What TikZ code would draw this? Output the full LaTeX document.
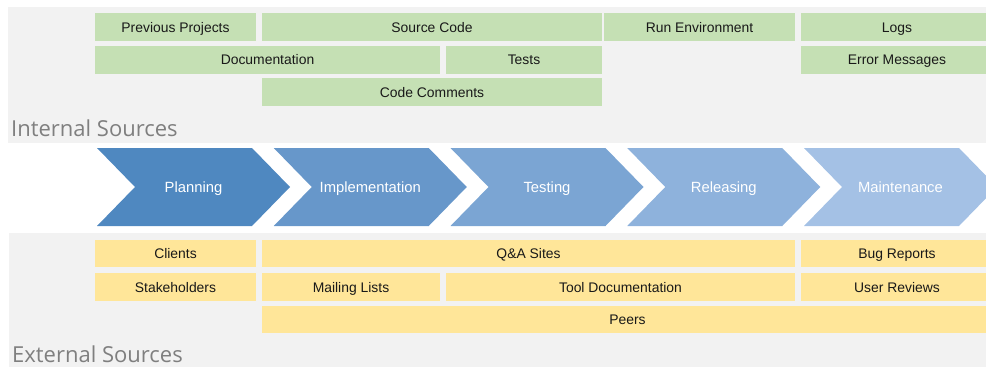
\documentclass[tikz,border=0pt]{standalone}
\usepackage{fontspec}
\setmainfont{Liberation Sans}
\newfontfamily\labelfont{Open Sans}
\definecolor{panelgray}{HTML}{F2F2F2}
\definecolor{boxgreen}{HTML}{C5E0B4}
\definecolor{boxyellow}{HTML}{FFE699}
\definecolor{labgray}{HTML}{7F7F7F}
\definecolor{chA}{HTML}{4F88C0}
\definecolor{chB}{HTML}{6797CA}
\definecolor{chC}{HTML}{7BA5D3}
\definecolor{chD}{HTML}{8EB2DC}
\definecolor{chE}{HTML}{A4C1E5}
\tikzset{
  srcbox/.style={inner sep=0pt, font=\fontsize{13.9}{16}\selectfont, text=black!90, minimum height=28pt, text height=13pt, text depth=3pt},
  gbox/.style={srcbox, fill=boxgreen},
  ybox/.style={srcbox, fill=boxyellow, minimum height=27.5pt},
  phase/.style={inner sep=0pt, font=\fontsize{14.8}{17}\selectfont, text=white, text height=13.7pt, text depth=3pt},
  panel/.style={fill=panelgray, draw=none},
  seclabel/.style={anchor=base west, inner sep=0pt, font=\labelfont\fontsize{22}{26}\selectfont, text=labgray}
}
\begin{document}
\begin{tikzpicture}[x=1pt,y=-1pt]
\useasboundingbox (0,0) rectangle (986,367);
\clip (0,0) rectangle (986,367);
% panels
\fill[panel] (8,7) rectangle (990,143);
\fill[panel] (9,233) rectangle (990,370);
% internal sources
\node[gbox, minimum width=161pt] (prev) at (175.5,27) {Previous Projects};
\node[gbox, minimum width=340pt] (src) at (432,27) {Source Code};
\node[gbox, minimum width=191pt] (runenv) at (699.5,27) {Run Environment};
\node[gbox, minimum width=192pt] (logs) at (897,27) {Logs};
\node[gbox, minimum width=345pt] (doc) at (267.5,59.5) {Documentation};
\node[gbox, minimum width=156pt] (tests) at (524,59.5) {Tests};
\node[gbox, minimum width=192pt] (err) at (897,59.5) {Error Messages};
\node[gbox, minimum width=340pt] (comm) at (432,92) {Code Comments};
\node[seclabel] (internal) at (11,136) {Internal Sources};
% phases
\foreach \i/\c/\t/\n in {0/chA/Planning/plan,1/chB/Implementation/impl,2/chC/Testing/test,3/chD/Releasing/rel,4/chE/Maintenance/maint}{
  \pgfmathsetmacro{\xo}{97+176.75*\i}
  \fill[\c] (\xo,148) -- ++(155,0) -- ++(38,39) -- ++(-38,39) -- ++(-155,0) -- ++(38,-39) -- cycle;
  \node[phase] (\n) at (\xo+96.5,187) {\t};
}
% external sources
\node[ybox, minimum width=161pt] (clients) at (175.5,253.5) {Clients};
\node[ybox, minimum width=533pt] (qa) at (528.5,253.5) {Q\&A Sites};
\node[ybox, minimum width=192pt] (bugs) at (897,253.5) {Bug Reports};
\node[ybox, minimum width=161pt] (stake) at (175.5,287) {Stakeholders};
\node[ybox, minimum width=178pt] (mail) at (351,287) {Mailing Lists};
\node[ybox, minimum width=349pt] (tooldoc) at (620.5,287) {Tool Documentation};
\node[ybox, minimum width=192pt] (reviews) at (897,287) {User Reviews};
\node[ybox, minimum width=731pt] (peers) at (627.5,319.5) {Peers};
\node[seclabel] (external) at (12,362) {External Sources};
\end{tikzpicture}
\end{document}
